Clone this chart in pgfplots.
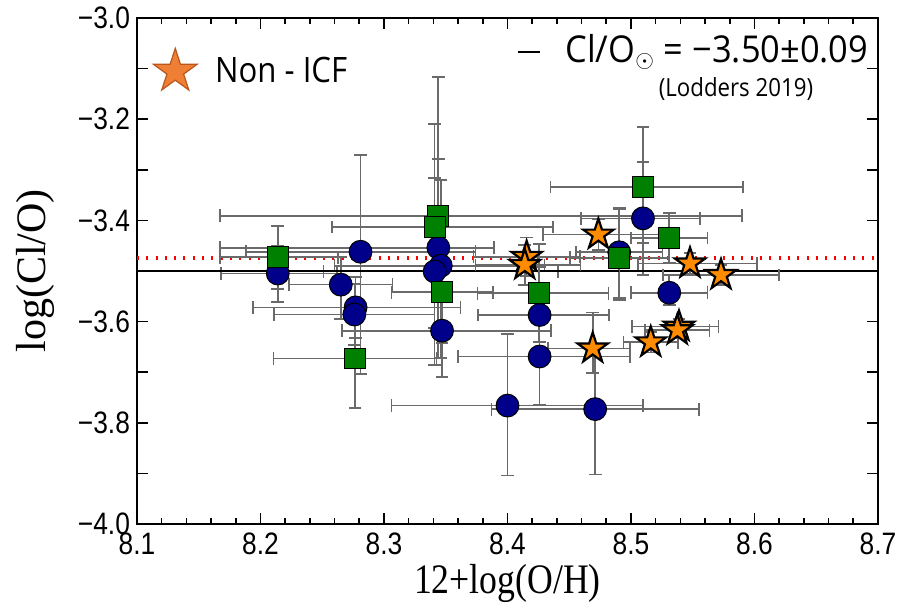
\documentclass[border=0pt]{standalone}
\usepackage{fontspec}
\usepackage{pgfplots}
\usepackage{pgfplotstable}
\pgfplotsset{compat=1.18}
\setmainfont{Liberation Serif}
\newfontfamily\tickfont[FakeStretch=0.85]{Liberation Sans}
\newfontfamily\labfont[FakeStretch=0.85]{Liberation Serif}
\newfontfamily\legfont[FakeStretch=0.89]{Open Sans}
\newfontfamily\annfont[FakeStretch=0.93]{Open Sans}

\definecolor{cblue}{HTML}{00008B}
\definecolor{sgreen}{HTML}{008000}
\definecolor{sorange}{HTML}{FF8C00}
\definecolor{legfill}{HTML}{EE7F35}
\definecolor{legedge}{HTML}{B8561C}
\definecolor{ebar}{HTML}{6A6A6A}

% filled five-point star
\pgfdeclareplotmark{fstar}{%
  \pgfpathmoveto{\pgfpointpolar{90}{\pgfplotmarksize}}%
  \pgfpathlineto{\pgfpointpolar{126}{0.382\pgfplotmarksize}}%
  \pgfpathlineto{\pgfpointpolar{162}{\pgfplotmarksize}}%
  \pgfpathlineto{\pgfpointpolar{198}{0.382\pgfplotmarksize}}%
  \pgfpathlineto{\pgfpointpolar{234}{\pgfplotmarksize}}%
  \pgfpathlineto{\pgfpointpolar{270}{0.382\pgfplotmarksize}}%
  \pgfpathlineto{\pgfpointpolar{306}{\pgfplotmarksize}}%
  \pgfpathlineto{\pgfpointpolar{342}{0.382\pgfplotmarksize}}%
  \pgfpathlineto{\pgfpointpolar{18}{\pgfplotmarksize}}%
  \pgfpathlineto{\pgfpointpolar{54}{0.382\pgfplotmarksize}}%
  \pgfpathclose
  \pgfusepathqfillstroke}

% x y xm xp ym yp
\pgfplotstableread{
x y xm xp ym yp
8.214 -3.505 0.046 0.048 0.056 0.055
8.265 -3.527 0.042 0.042 0.068 0.055
8.277 -3.572 0.083 0.085 0.060 0.060
8.276 -3.586 0.065 0.065 0.060 0.060
8.281 -3.462 0.093 0.093 0.242 0.191
8.344 -3.454 0.177 0.045 0.176 0.175
8.346 -3.4895 0.086 0.084 0.183 0.170
8.341 -3.501 0.090 0.100 0.185 0.185
8.347 -3.618 0.081 0.088 0.091 0.091
8.426 -3.587 0.050 0.056 0.095 0.095
8.426 -3.669 0.066 0.073 0.096 0.096
8.400 -3.766 0.094 0.110 0.138 0.141
8.471 -3.773 0.084 0.084 0.129 0.129
8.4905 -3.463 0.035 0.035 0.090 0.085
8.5097 -3.396 0.050 0.046 0.112 0.112
8.531 -3.543 0.031 0.031 0.024 0.034
}\circtab

\pgfplotstableread{
x y xm xp ym yp
8.214 -3.473 0.047 0.049 0.063 0.062
8.2765 -3.673 0.066 0.066 0.098 0.098
8.344 -3.391 0.177 0.246 0.282 0.275
8.341 -3.413 0.083 0.096 0.200 0.203
8.347 -3.542 0.041 0.041 0.100 0.100
8.4257 -3.544 0.050 0.056 0.097 0.097
8.4906 -3.474 0.040 0.040 0.083 0.098
8.5097 -3.334 0.075 0.081 0.111 0.119
8.531 -3.435 0.031 0.031 0.049 0.049
}\sqtab

\pgfplotstableread{
x y xm xp ym yp
8.4155 -3.472 0.043 0.043 0.038 0.038
8.414 -3.488 0.040 0.045 0.040 0.040
8.4736 -3.428 0.045 0.050 0.030 0.030
8.469 -3.653 0.036 0.030 0.049 0.071
8.516 -3.641 0.022 0.022 0.020 0.020
8.5389 -3.610 0.038 0.032 0.015 0.015
8.5375 -3.617 0.026 0.026 0.015 0.015
8.5478 -3.485 0.042 0.054 0.020 0.020
8.5729 -3.508 0.047 0.047 0.020 0.020
}\startab

\begin{document}
\begin{tikzpicture}
\useasboundingbox (0,0) rectangle (451pt,306.5pt);
\begin{axis}[
  at={(68.5pt,44.5pt)}, anchor=south west,
  scale only axis, width=370.5pt, height=253pt,
  xmin=8.1, xmax=8.7, ymin=-4.0, ymax=-3.0,
  axis line style={line width=1pt},
  tick style={line width=0.8pt, black},
  tick align=inside,
  major tick length=5.5pt, minor tick length=3.2pt,
  xtick={8.1,8.2,8.3,8.4,8.5,8.6,8.7},
  xticklabels={8.1,8.2,8.3,8.4,8.5,8.6,8.7},
  minor x tick num=4,
  ytick={-4,-3.8,-3.6,-3.4,-3.2,-3},
  yticklabels={−4.0,−3.8,−3.6,−3.4,−3.2,−3.0},
  extra y ticks={-3.9,-3.7,-3.5,-3.3,-3.1},
  extra y tick labels={},
  tick label style={font=\tickfont\fontsize{15.5}{16}\selectfont},
  xticklabel style={yshift=-1pt},
  xlabel={12+log(O/H)},
  ylabel={log(Cl/O)},
  xlabel style={font=\labfont\fontsize{21}{22}\selectfont, at={(axis description cs:0.5,0)}, anchor=north, yshift=-20pt, inner sep=0pt},
  ylabel style={font=\fontsize{21}{22}\selectfont, at={(axis description cs:-0.111,0.5)}, anchor=south, inner sep=0pt},
  legend style={draw=none, fill=none, at={(rel axis cs:0,1)}, anchor=north west,
    xshift=8pt, yshift=-15pt, inner sep=0pt,
    font=\legfont\fontsize{17.5}{19}\selectfont,
    nodes={inner sep=1pt},
    /tikz/every odd column/.append style={column sep=8pt}},
  legend image code/.code={\draw[#1] plot coordinates {(0pt,0pt)};},
  error bars/error bar style={line width=0.85pt, ebar},
  error bars/error mark options={line width=0.85pt, ebar, mark size=3.2pt, rotate=90},
]
\addlegendimage{only marks, mark=fstar, mark size=11.5pt, mark options={fill=legfill, draw=legedge, line width=0.6pt}}
\addlegendentry{Non - ICF}

% reference values
\addplot[forget plot, red, line width=2pt, dash pattern=on 1pt off 3.65pt] coordinates {(8.1,-3.475) (8.7,-3.475)};

\addplot[forget plot, only marks, mark=*, mark size=5.7pt,
  mark options={fill=cblue, draw=black, line width=0.5pt},
  error bars/.cd, x dir=both, x explicit, y dir=both, y explicit]
  table[x=x, y=y, x error minus=xm, x error plus=xp, y error minus=ym, y error plus=yp] {\circtab};

\addplot[forget plot, black, line width=1.1pt] coordinates {(8.1,-3.5) (8.7,-3.5)};

\addplot[forget plot, only marks, mark=square*, mark size=5.2pt,
  mark options={fill=sgreen, draw=black, line width=0.5pt},
  error bars/.cd, x dir=both, x explicit, y dir=both, y explicit]
  table[x=x, y=y, x error minus=xm, x error plus=xp, y error minus=ym, y error plus=yp] {\sqtab};

\addplot[forget plot, only marks, mark=fstar, mark size=8pt,
  mark options={fill=sorange, draw=black, line width=1.1pt},
  error bars/.cd, x dir=both, x explicit, y dir=both, y explicit]
  table[x=x, y=y, x error minus=xm, x error plus=xp, y error minus=ym, y error plus=yp] {\startab};

\draw[black, line width=0.6pt] (axis cs:8.4085,-3.0672) -- (axis cs:8.4263,-3.0672);
\node[anchor=west, inner sep=0pt, font=\annfont\fontsize{18.5}{20}\selectfont] at (axis cs:8.4466,-3.0672) {Cl/O$_\odot$ = −3.50±0.09};
\node[inner sep=0pt, font=\legfont\fontsize{12.5}{13}\selectfont] at (axis cs:8.585,-3.140) {(Lodders 2019)};
\end{axis}
\end{tikzpicture}
\end{document}
